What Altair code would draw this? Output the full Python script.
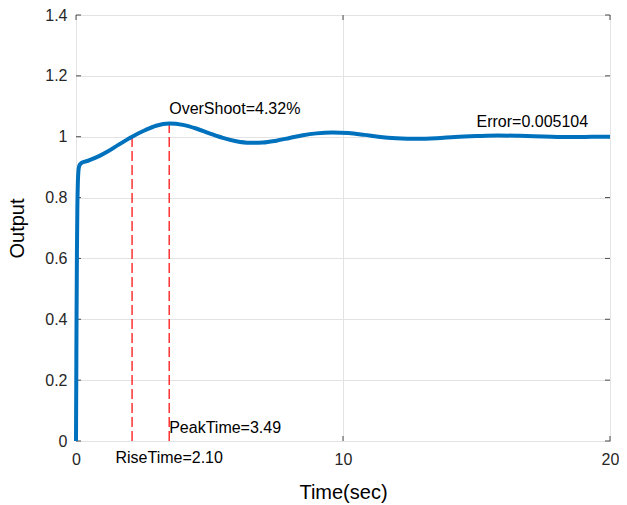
import altair as alt
import pandas as pd

# step response samples
t_vals = [0, 0.01, 0.02, 0.035, 0.05, 0.07, 0.1, 0.14, 0.2, 0.3, 0.45, 0.65, 0.9, 1.2, 1.6, 2.1,
          2.6, 3.0, 3.49, 4.0, 4.5, 5.0, 5.5, 6.0, 6.5, 7.0, 7.5, 8.0, 8.5, 9.0, 9.6, 10.2,
          10.8, 11.4, 12.0, 12.8, 13.5, 14.2, 15.0, 15.8, 16.6, 17.5, 18.5, 19.3, 20]
y_vals = [0, 0.2, 0.4, 0.62, 0.76, 0.85, 0.895, 0.908, 0.913, 0.917, 0.921, 0.928, 0.938, 0.952, 0.974, 1.0,
          1.022, 1.036, 1.0432, 1.039, 1.027, 1.011, 0.996, 0.985, 0.980, 0.981, 0.987, 0.996, 1.005, 1.011, 1.014, 1.012,
          1.006, 0.999, 0.995, 0.993, 0.995, 0.999, 1.002, 1.004, 1.003, 1.001, 0.999, 0.9995, 1.0]

# marker lines
mark_t = [2.10, 3.49]
mark_top = [1.0, 1.0432]

# annotations
ann_text = ["OverShoot=4.32%", "PeakTime=3.49", "RiseTime=2.10", "Error=0.005104"]
ann_x = [3.49, 3.49, 3.49, 15.0]
ann_y = [1.091, 0.044, -0.057, 1.048]
ann_align = ["left", "left", "center", "left"]

x_ticks = [0, 10, 20]
y_ticks = [0, 0.2, 0.4, 0.6, 0.8, 1.0, 1.2, 1.4]

W, H = 534, 426
TICK = 5

curve = pd.DataFrame({"t": t_vals, "y": y_vals})
marks = pd.DataFrame({"t": mark_t, "y0": [0, 0], "y1": mark_top})
ann = pd.DataFrame({"x": ann_x, "y": ann_y, "text": ann_text, "align": ann_align})
xt = pd.DataFrame({"t": x_ticks})
yt = pd.DataFrame({"y": y_ticks})

FONT = "Liberation Sans"

xscale = alt.Scale(domain=[0, 20], nice=False)
yscale = alt.Scale(domain=[0, 1.4], nice=False)

line = alt.Chart(curve).mark_line(color="#0072BD", strokeWidth=4, interpolate="monotone").encode(
    x=alt.X("t:Q", scale=xscale, title="Time(sec)",
            axis=alt.Axis(values=x_ticks, format="~g", grid=True, ticks=False, domain=False,
                          labelFlush=False, labelPadding=10, titlePadding=15)),
    y=alt.Y("y:Q", scale=yscale, title="Output",
            axis=alt.Axis(values=y_ticks, format="~g", grid=True, ticks=False, domain=False,
                          labelPadding=9, titlePadding=17)),
)

rules = alt.Chart(marks).mark_rule(color="#FF0000", strokeWidth=1.2, strokeDash=[10, 4]).encode(
    x="t:Q", y="y0:Q", y2="y1:Q"
)

tick_style = dict(color="#4d4d4d", strokeWidth=1)
xt_bottom = alt.Chart(xt).mark_rule(**tick_style).encode(
    x=alt.X("t:Q", scale=xscale), y=alt.value(H), y2=alt.value(H - TICK))
xt_top = alt.Chart(xt).mark_rule(**tick_style).encode(
    x=alt.X("t:Q", scale=xscale), y=alt.value(0), y2=alt.value(TICK))
yt_left = alt.Chart(yt).mark_rule(**tick_style).encode(
    y=alt.Y("y:Q", scale=yscale), x=alt.value(0), x2=alt.value(TICK))
yt_right = alt.Chart(yt).mark_rule(**tick_style).encode(
    y=alt.Y("y:Q", scale=yscale), x=alt.value(W), x2=alt.value(W - TICK))

texts_left = alt.Chart(ann[ann["align"] == "left"]).mark_text(
    align="left", baseline="middle", font=FONT, fontSize=16, color="#000000"
).encode(x="x:Q", y="y:Q", text="text:N")

texts_center = alt.Chart(ann[ann["align"] == "center"]).mark_text(
    align="center", baseline="middle", font=FONT, fontSize=16, color="#000000"
).encode(x="x:Q", y="y:Q", text="text:N")

chart = alt.layer(xt_bottom, xt_top, yt_left, yt_right, rules, line, texts_left, texts_center).properties(
    width=W, height=H,
    autosize=alt.AutoSizeParams(type="none"),
    padding={"left": 68, "top": 7, "right": 9, "bottom": 62},
    background="white",
).configure_view(
    stroke="#4d4d4d", strokeWidth=1
).configure_axis(
    labelFont=FONT, labelFontSize=16, labelColor="#262626",
    titleFont=FONT, titleFontSize=20, titleColor="#000000", titleFontWeight="normal",
    gridColor="#e3e3e3", gridWidth=1,
)

chart.save("out.html", embed_options={"renderer": "svg", "actions": False})
